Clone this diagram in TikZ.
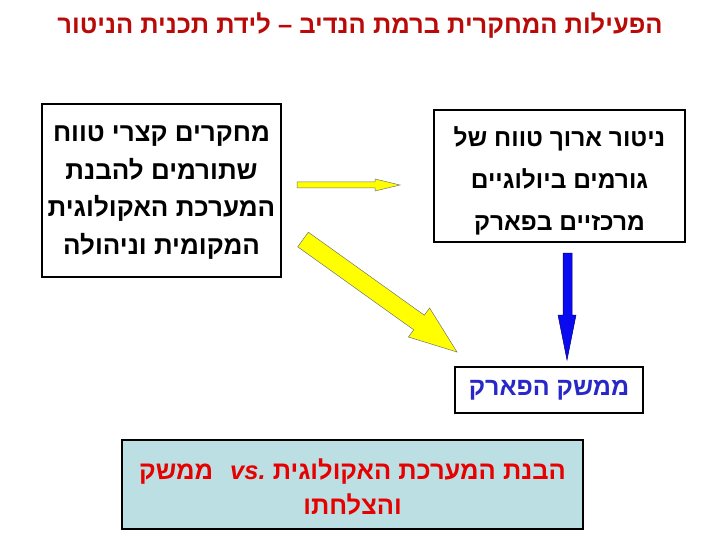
\documentclass[tikz,border=0pt]{standalone}
\usepackage{fontspec}
\setmainfont{Liberation Sans}
\newfontfamily\heb[Script=Hebrew]{Liberation Sans}
\TeXXeTstate=1
\definecolor{titlered}{RGB}{185,10,10}
\definecolor{txtred}{RGB}{230,0,0}
\definecolor{txtblue}{RGB}{40,40,200}
\definecolor{lightcyan}{RGB}{188,223,228}
\definecolor{arrowyellow}{RGB}{255,255,0}
\definecolor{arrowblue}{RGB}{10,10,240}
\tikzset{
  box/.style={draw=black, line width=1.6pt, fill=white, inner sep=0pt},
  hebtext/.style={font=\heb\bfseries, align=center, inner sep=0pt},
  yarrow/.style={fill=arrowyellow, draw=black!55, line width=0.5pt, line join=miter},
  barrow/.style={fill=arrowblue, draw=blue!50!black, line width=0.5pt, line join=miter}
}
\begin{document}
\begin{tikzpicture}[x=1pt,y=-1pt]
\useasboundingbox (0,0) rectangle (720,540);
% title
\node[hebtext, text=titlered, font=\heb\bfseries\fontsize{25.5}{30}\selectfont] (title) at (360,26)
  {\beginR הפעילות המחקרית ברמת הנדיב – לידת תכנית הניטור\endR};
% left box
\node[box, minimum width=239pt, minimum height=173pt] (L) at (161.5,190.5) {};
\node[hebtext, font=\heb\bfseries\fontsize{26}{37.5}\selectfont] (Lt) at (161.5,192.5)
  {\beginR מחקרים קצרי טווח\endR\\\beginR שתורמים להבנת\endR\\\beginR המערכת האקולוגית\endR\\\beginR המקומית וניהולה\endR};
% right box
\node[box, minimum width=251pt, minimum height=132pt] (R) at (559.5,176) {};
\node[hebtext, font=\heb\bfseries\fontsize{24.5}{42}\selectfont] (Rt) at (559.5,180.5)
  {\beginR ניטור ארוך טווח של\endR\\\beginR גורמים ביולוגיים\endR\\\beginR מרכזיים בפארק\endR};
% interface box
\node[box, minimum width=188pt, minimum height=46pt, text=txtblue, font=\heb\bfseries\fontsize{25}{28}\selectfont] (M) at (549,390)
  {\beginR ממשק הפארק\endR};
% bottom box
\node[box, fill=lightcyan, minimum width=461pt, minimum height=89pt] (B) at (352.5,484.5) {};
\node[hebtext, text=txtred, font=\heb\bfseries\fontsize{25.5}{35}\selectfont] (Bt) at (352.5,487)
  {\beginR הבנת המערכת האקולוגית \beginL\textit{vs.}\endL\hspace{0.3em} ממשק\endR\\\beginR והצלחתו\endR};
% small yellow arrow L -> R
\draw[yarrow] (297,182) -- (375,182) -- (375,179) -- (400,185) -- (375,191) -- (375,188) -- (297,188) -- cycle;
% big yellow arrow L -> M
\draw[yarrow] (308.3,232.2) -- (424.3,315.2) -- (429.6,308) -- (457,352) -- (408.4,337) -- (413.7,329.8) -- (297.7,246.8) -- cycle;
% blue arrow R -> M
\draw[barrow] (563,253) -- (572,253) -- (572,315) -- (576,315) -- (567,360) -- (558,315) -- (563,315) -- cycle;
\end{tikzpicture}
\end{document}
